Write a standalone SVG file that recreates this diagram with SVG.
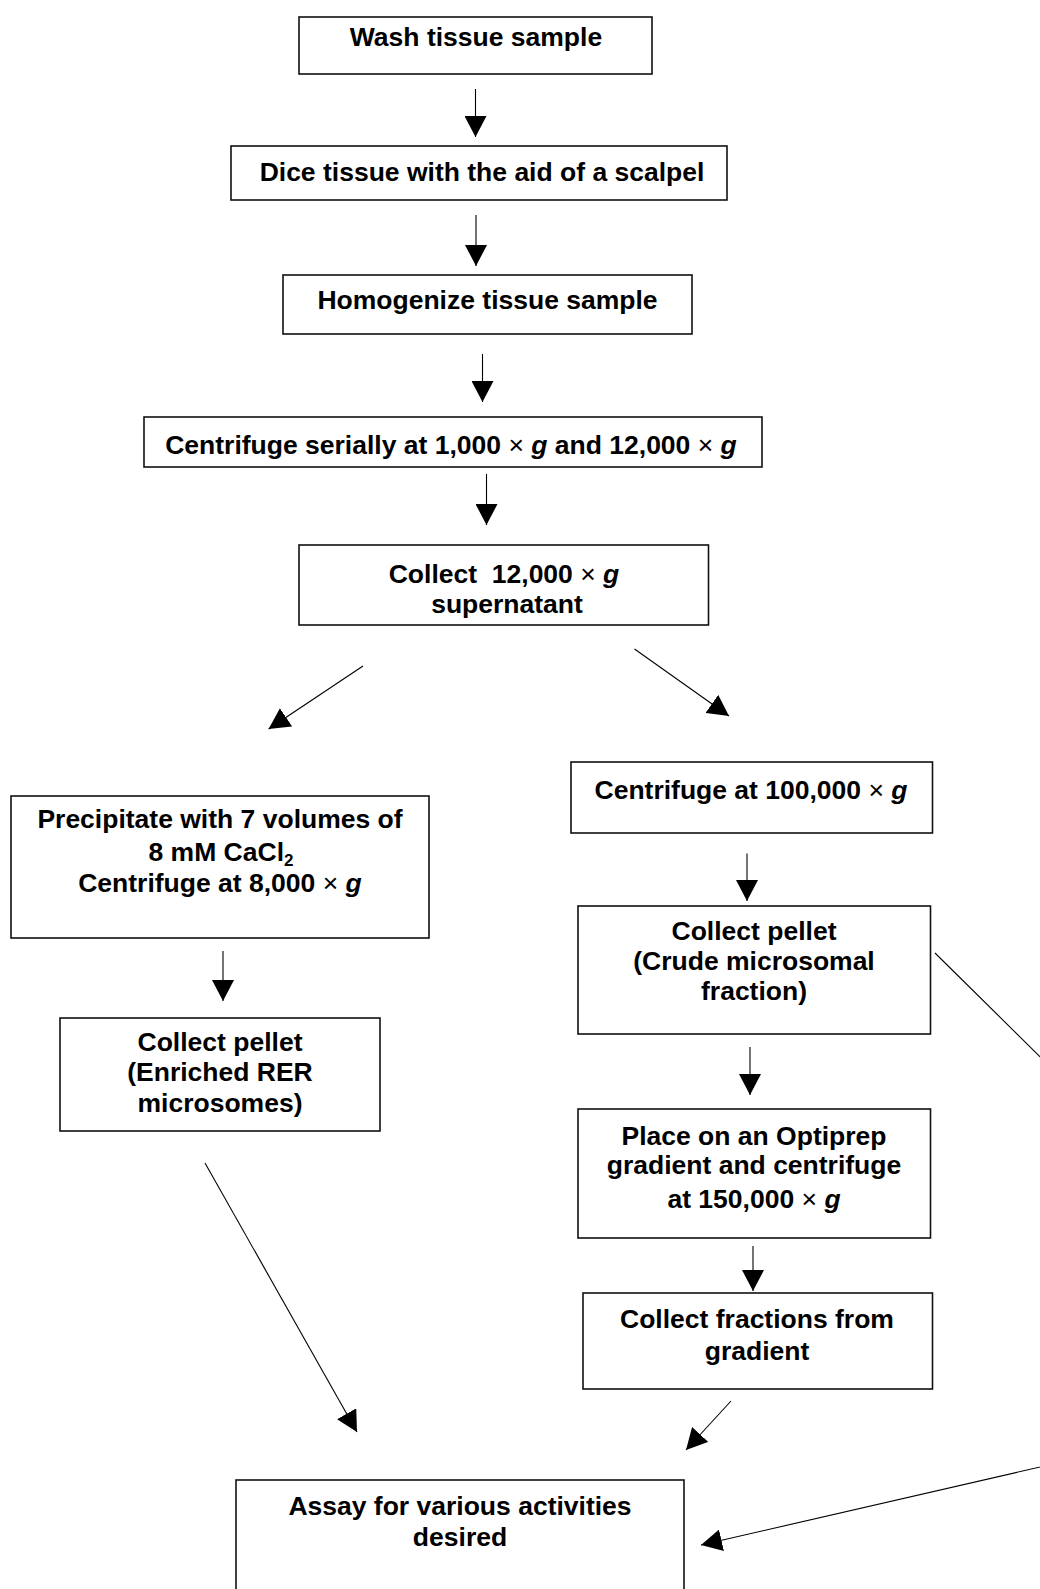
<svg xmlns="http://www.w3.org/2000/svg" width="1040" height="1589" viewBox="0 0 1040 1589">
<style>
.box{fill:#fff;stroke:#111;stroke-width:1.6}
.t{font-family:"Liberation Sans",Arial,sans-serif;font-weight:bold;font-size:26.5px;fill:#000;text-anchor:middle}
.x{font-weight:normal}
.g{font-style:italic}
.c{fill:none;stroke:#000;stroke-width:1.1}
</style>
<defs>
<marker id="ah" viewBox="0 0 21 22" refX="21" refY="11" markerWidth="21" markerHeight="22" markerUnits="userSpaceOnUse" orient="auto">
<path d="M0,0 L21,11 L0,22 z" fill="#000"/>
</marker>
</defs>
<rect width="1040" height="1589" fill="#fff"/>
<g id="connectors">
<line class="c" x1="475.5" y1="89" x2="475.5" y2="137" marker-end="url(#ah)"/>
<line class="c" x1="476" y1="215" x2="476" y2="266" marker-end="url(#ah)"/>
<line class="c" x1="482.5" y1="354" x2="482.5" y2="402" marker-end="url(#ah)"/>
<line class="c" x1="486.5" y1="474" x2="486.5" y2="525" marker-end="url(#ah)"/>
<line class="c" x1="363" y1="666" x2="268.6" y2="729" marker-end="url(#ah)"/>
<line class="c" x1="634.5" y1="649" x2="729" y2="716" marker-end="url(#ah)"/>
<line class="c" x1="747" y1="853.5" x2="747" y2="901" marker-end="url(#ah)"/>
<line class="c" x1="750" y1="1047" x2="750" y2="1095" marker-end="url(#ah)"/>
<line class="c" x1="753" y1="1246" x2="753" y2="1291" marker-end="url(#ah)"/>
<line class="c" x1="731" y1="1401" x2="686" y2="1450" marker-end="url(#ah)"/>
<line class="c" x1="223" y1="951" x2="223" y2="1001" marker-end="url(#ah)"/>
<line class="c" x1="205" y1="1163" x2="357" y2="1432" marker-end="url(#ah)"/>
<path class="c" d="M935,953 L1377,1389.5 L701,1545" marker-end="url(#ah)"/>
</g>
<g id="wash">
<rect class="box" x="299" y="17" width="353" height="57"/>
<text class="t" x="476" y="46">Wash tissue sample</text>
</g>
<g id="dice">
<rect class="box" x="231" y="146" width="496" height="54"/>
<text class="t" x="482" y="181">Dice tissue with the aid of a scalpel</text>
</g>
<g id="homogenize">
<rect class="box" x="283" y="275" width="409" height="59"/>
<text class="t" x="487.5" y="309">Homogenize tissue sample</text>
</g>
<g id="centrifuge-serial">
<rect class="box" x="144" y="417" width="618" height="50"/>
<text class="t" x="451" y="454">Centrifuge serially at 1,000 <tspan class="x">×</tspan> <tspan class="g">g</tspan> and 12,000 <tspan class="x">×</tspan> <tspan class="g">g</tspan></text>
</g>
<g id="collect-supernatant">
<rect class="box" x="299" y="545" width="409.5" height="80"/>
<text class="t" x="504" y="583" style="white-space:pre">Collect  12,000 <tspan class="x">×</tspan> <tspan class="g">g</tspan></text>
<text class="t" x="507" y="613">supernatant</text>
</g>
<g id="precipitate">
<rect class="box" x="11" y="796" width="418" height="142"/>
<text class="t" x="220" y="828">Precipitate with 7 volumes of</text>
<text class="t" x="221" y="861">8 mM CaCl<tspan font-size="17" dy="5">2</tspan></text>
<text class="t" x="220" y="892">Centrifuge at 8,000 <tspan class="x">×</tspan> <tspan class="g">g</tspan></text>
</g>
<g id="collect-pellet-rer">
<rect class="box" x="60" y="1018" width="320" height="113"/>
<text class="t" x="220" y="1051">Collect pellet</text>
<text class="t" x="220" y="1081">(Enriched RER</text>
<text class="t" x="220" y="1112">microsomes)</text>
</g>
<g id="centrifuge-100k">
<rect class="box" x="571" y="762" width="361.5" height="71"/>
<text class="t" x="751" y="799">Centrifuge at 100,000 <tspan class="x">×</tspan> <tspan class="g">g</tspan></text>
</g>
<g id="collect-pellet-crude">
<rect class="box" x="578" y="906" width="352.5" height="128"/>
<text class="t" x="754" y="940">Collect pellet</text>
<text class="t" x="754" y="970">(Crude microsomal</text>
<text class="t" x="754" y="1000">fraction)</text>
</g>
<g id="optiprep">
<rect class="box" x="578" y="1109" width="352.5" height="129"/>
<text class="t" x="754" y="1145">Place on an Optiprep</text>
<text class="t" x="754" y="1174">gradient and centrifuge</text>
<text class="t" x="754" y="1208">at 150,000 <tspan class="x">×</tspan> <tspan class="g">g</tspan></text>
</g>
<g id="collect-fractions">
<rect class="box" x="583" y="1293" width="349.5" height="96"/>
<text class="t" x="757" y="1328">Collect fractions from</text>
<text class="t" x="757" y="1360">gradient</text>
</g>
<g id="assay">
<rect class="box" x="236" y="1480" width="448" height="130"/>
<text class="t" x="460" y="1515">Assay for various activities</text>
<text class="t" x="460" y="1546">desired</text>
</g>
</svg>
